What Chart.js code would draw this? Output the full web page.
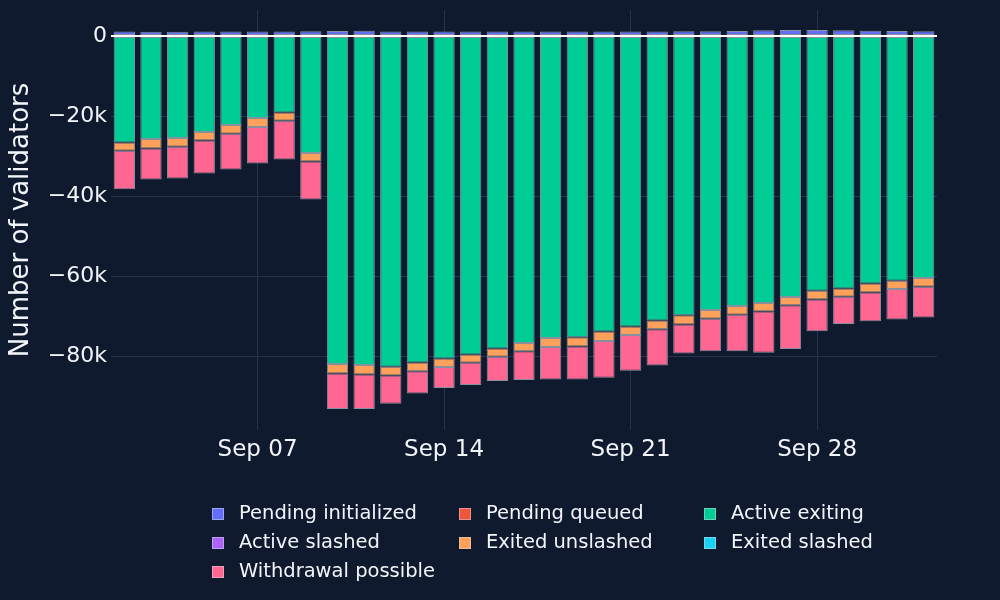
<!DOCTYPE html>
<html>
<head>
<meta charset="utf-8">
<script src="https://cdn.jsdelivr.net/npm/chart.js@4/dist/chart.umd.min.js"></script>
<style>
    body { margin: 0; background: #101a2e; }
    #wrap { position: relative; width: 1000px; height: 600px; background: #101a2e; }
    #legend { position: absolute; left: 212px; top: 500px; width: 760px; font-family: "DejaVu Sans", Verdana, sans-serif; font-size: 19.5px; color: #f2f5fa; }
    .item { position: absolute; height: 26px; line-height: 26px; white-space: nowrap; }
    .box { display: inline-block; width: 12px; height: 12px; margin-right: 15px; vertical-align: -1px; border: 1px solid rgba(210,215,225,0.5); box-sizing: border-box; }
</style>
</head>
<body>
<div id="wrap">
    <canvas id="chart" width="1000" height="600"></canvas>
    <div id="legend"></div>
</div>
<script>
let dates = ['Sep 02', 'Sep 03', 'Sep 04', 'Sep 05', 'Sep 06', 'Sep 07', 'Sep 08', 'Sep 09', 'Sep 10', 'Sep 11',
    'Sep 12', 'Sep 13', 'Sep 14', 'Sep 15', 'Sep 16', 'Sep 17', 'Sep 18', 'Sep 19', 'Sep 20', 'Sep 21',
    'Sep 22', 'Sep 23', 'Sep 24', 'Sep 25', 'Sep 26', 'Sep 27', 'Sep 28', 'Sep 29', 'Sep 30', 'Oct 01', 'Oct 02'];
let tickLabels = ['Sep 07', 'Sep 14', 'Sep 21', 'Sep 28'];
let yTickValues = [0, -20000, -40000, -60000, -80000];

let pendingInitialized = [1100, 1050, 1050, 1150, 1100, 1100, 1100, 1200, 1250, 1300, 1150, 1100, 1150, 1100, 1100, 1100,
    1150, 1150, 1150, 1150, 1150, 1200, 1200, 1250, 1450, 1500, 1500, 1450, 1300, 1250, 1200];
let pendingQueued = [0, 0, 0, 0, 0, 0, 0, 0, 0, 0, 0, 0, 0, 0, 0, 0, 0, 0, 0, 0, 0, 0, 0, 0, 0, 0, 0, 0, 0, 0, 0];
let activeExiting = [-26600, -25750, -25500, -24000, -22250, -20500, -19100, -29250, -82000, -82250, -82700, -81600,
    -80600, -79600, -78100, -76750, -75500, -75300, -73900, -72600, -71100, -69800, -68500, -67500, -66750, -65250,
    -63700, -63100, -61900, -61200, -60500];
let activeSlashed = [0, 0, 0, 0, 0, 0, 0, 0, 0, 0, 0, 0, 0, 0, 0, 0, 0, 0, 0, 0, 0, 0, 0, 0, 0, 0, 0, 0, 0, 0, 0];
let exitedUnslashed = [-2100, -2350, -2200, -2100, -2200, -2250, -2100, -2150, -2400, -2400, -2150, -2200, -2150, -2100,
    -2100, -2050, -2250, -2300, -2350, -2150, -2200, -2300, -2200, -2200, -2150, -2050, -2200, -2100, -2200, -2050, -2200];
let exitedSlashed = [0, 0, 0, 0, 0, 0, 0, 0, 0, 0, 0, 0, 0, 0, 0, 0, 0, 0, 0, 0, 0, 0, 0, 0, 0, 0, 0, 0, 0, 0, 0];
let withdrawalPossible = [-9600, -7800, -7900, -8300, -8900, -9100, -9700, -9500, -8850, -8600, -7100, -5600, -5250,
    -5550, -6050, -7200, -8150, -8300, -9200, -8950, -9100, -7300, -8100, -9100, -10300, -10950, -7900, -6800, -7200,
    -7650, -7700];

let textColor = '#f2f5fa';
let gridColor = '#26344f';
let fontFamily = '"DejaVu Sans", Verdana, sans-serif';

function makeSet(label, data, color) {
    return {
        label: label,
        data: data,
        backgroundColor: color,
        borderColor: 'rgba(215, 220, 230, 0.6)',
        borderWidth: 1,
        borderSkipped: false,
        barPercentage: 0.8,
        categoryPercentage: 1.0
    };
}

let datasets = [
    makeSet('Pending initialized', pendingInitialized, '#636efa'),
    makeSet('Pending queued', pendingQueued, '#EF553B'),
    makeSet('Active exiting', activeExiting, '#00cc96'),
    makeSet('Active slashed', activeSlashed, '#ab63fa'),
    makeSet('Exited unslashed', exitedUnslashed, '#FFA15A'),
    makeSet('Exited slashed', exitedSlashed, '#19d3f3'),
    makeSet('Withdrawal possible', withdrawalPossible, '#FF6692')
];

let chart = new Chart(document.getElementById('chart').getContext('2d'), {
    type: 'bar',
    data: { labels: dates, datasets: datasets },
    options: {
        responsive: false,
        animation: false,
        layout: { padding: { top: 10, right: 63, left: 6, bottom: 0 } },
        plugins: {
            legend: { display: false },
            tooltip: { enabled: false }
        },
        scales: {
            x: {
                stacked: true,
                offset: true,
                border: { display: false },
                grid: {
                    offset: false,
                    drawTicks: false,
                    color: ctx => tickLabels.includes(dates[ctx.index]) ? gridColor : 'rgba(0,0,0,0)'
                },
                ticks: {
                    autoSkip: false,
                    maxRotation: 0,
                    padding: 6,
                    color: textColor,
                    font: { family: fontFamily, size: 23 },
                    callback: (val, i) => tickLabels.includes(dates[i]) ? dates[i] : ''
                },
                afterFit: scale => { scale.height = 170; }
            },
            y: {
                stacked: true,
                min: -98500,
                max: 6500,
                border: { display: false },
                grid: {
                    drawTicks: false,
                    color: ctx => ctx.tick && ctx.tick.value === 0 ? '#ffffff' : gridColor,
                    lineWidth: ctx => ctx.tick && ctx.tick.value === 0 ? 2 : 1
                },
                afterBuildTicks: scale => {
                    scale.ticks = yTickValues.map(v => ({ value: v }));
                },
                ticks: {
                    padding: 4,
                    color: textColor,
                    font: { family: fontFamily, size: 22 },
                    callback: value => value === 0 ? '0' : '\u2212' + Math.abs(value / 1000) + 'k'
                },
                title: {
                    display: true,
                    text: 'Number of validators',
                    color: textColor,
                    font: { family: fontFamily, size: 26 },
                    padding: { top: 0, bottom: 0 }
                },
                afterFit: scale => {
                    scale.width = 105;
                    scale.paddingTop = 0;
                    scale.paddingBottom = 0;
                }
            }
        }
    }
});

// html legend in three columns like the original
let legend = document.getElementById('legend');
let colX = [0, 247, 492];
chart.data.datasets.forEach((ds, i) => {
    let item = document.createElement('div');
    item.className = 'item';
    item.style.left = colX[i % 3] + 'px';
    item.style.top = Math.floor(i / 3) * 29 + 'px';
    item.innerHTML = `<span class="box" style="background:${ds.backgroundColor}"></span>${ds.label}`;
    legend.appendChild(item);
});
</script>
</body>
</html>
